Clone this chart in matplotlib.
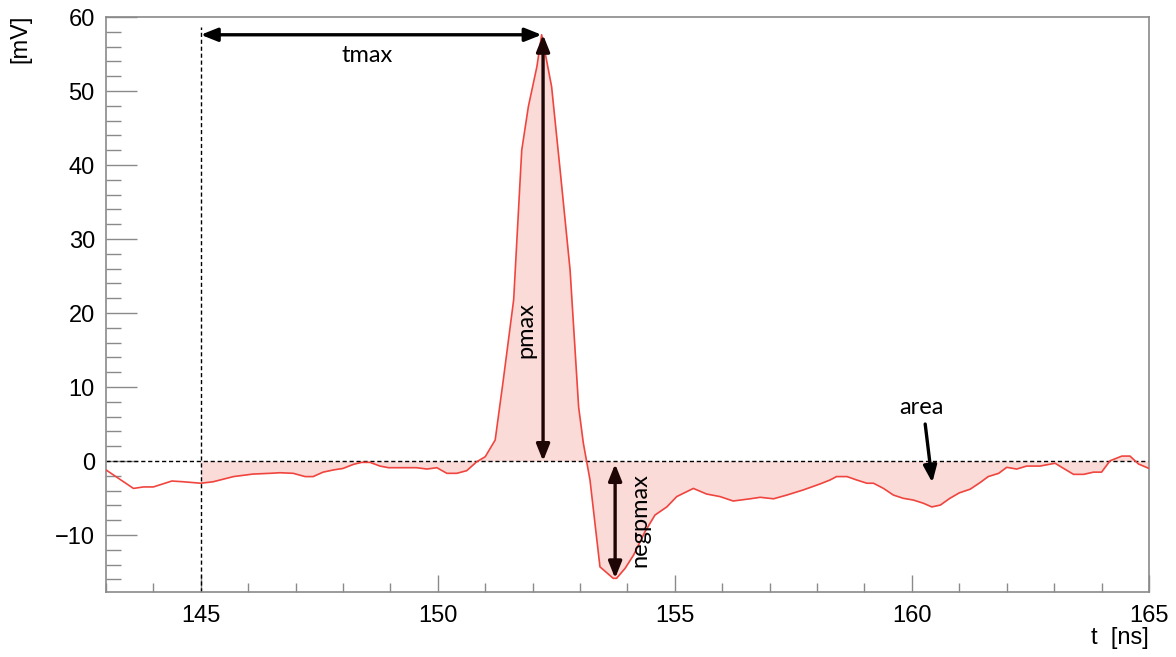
import numpy as np
import matplotlib.pyplot as plt
from matplotlib.ticker import MultipleLocator

# ----- waveform samples -----
t_ns = [143.0, 143.58, 143.79, 144.0, 144.39, 144.63, 145.0, 145.26, 145.69, 146.1,
        146.46, 146.67, 146.95, 147.2, 147.37, 147.58, 147.8, 148.0, 148.22, 148.39,
        148.57, 148.78, 148.96, 149.2, 149.55, 149.77, 149.98, 150.19, 150.4, 150.61,
        150.82, 151.0, 151.21, 151.38, 151.6, 151.77, 151.91, 152.09, 152.19, 152.4,
        152.58, 152.79, 152.97, 153.07, 153.21, 153.42, 153.7, 153.77, 153.95, 154.13,
        154.37, 154.58, 154.83, 155.04, 155.39, 155.67, 155.95, 156.23, 156.59, 156.8,
        157.08, 157.36, 157.71, 158.06, 158.27, 158.41, 158.63, 158.84, 159.05, 159.19,
        159.4, 159.61, 159.82, 160.03, 160.24, 160.42, 160.6, 160.8, 161.0, 161.23,
        161.44, 161.61, 161.83, 162.0, 162.21, 162.42, 162.7, 163.02, 163.2, 163.41,
        163.62, 163.83, 164.0, 164.18, 164.43, 164.6, 164.78, 165.0]
v_mV = [-1.2, -3.7, -3.5, -3.5, -2.7, -2.8, -3.0, -2.8, -2.1, -1.76,
        -1.66, -1.58, -1.66, -2.1, -2.1, -1.5, -1.2, -1.0, -0.45, -0.18,
        -0.18, -0.68, -0.9, -0.9, -0.9, -1.08, -0.9, -1.66, -1.66, -1.3,
        -0.1, 0.58, 2.84, 10.9, 21.8, 42.0, 47.9, 53.3, 57.6, 50.6,
        39.3, 25.8, 7.3, 2.4, -2.57, -14.3, -15.85, -15.85, -14.5, -12.7,
        -9.55, -7.3, -6.2, -4.8, -3.7, -4.46, -4.8, -5.4, -5.1, -4.9,
        -5.1, -4.6, -3.9, -3.1, -2.57, -2.1, -2.1, -2.57, -3.0, -3.0,
        -3.7, -4.6, -5.04, -5.27, -5.7, -6.2, -5.95, -5.04, -4.3, -3.8,
        -2.9, -2.1, -1.66, -0.85, -1.08, -0.68, -0.68, -0.3, -1.0, -1.8,
        -1.8, -1.5, -1.5, 0.04, 0.67, 0.67, -0.4, -1.0]

T_START = 145.0
T_PEAK, V_PEAK = 152.19, 57.6
T_NEG, V_NEG = 153.74, -15.85

LINE_COLOR = "#f0453f"
FILL_COLOR = "#fadbd8"
AXIS_COLOR = "#8a8a8a"
ANN_FONT = ["Lato", "DejaVu Sans"]
ARROW2 = "<|-|>,head_length=1.0,head_width=0.4"
ARROW1 = "-|>,head_length=1.0,head_width=0.4"

plt.rcParams["font.family"] = ["Liberation Sans", "DejaVu Sans"]

fig = plt.figure(figsize=(11.76, 6.57), dpi=100)
ax = fig.add_axes([0.0901, 0.0989, 0.8869, 0.8752])

t = np.array(t_ns)
v = np.array(v_mV)
mask = t >= T_START
ax.fill_between(t[mask], v[mask], 0, color=FILL_COLOR, linewidth=0, zorder=1)
ax.plot(t, v, color=LINE_COLOR, linewidth=1.2, zorder=3)

# reference lines
ax.axhline(0, color="black", linestyle=(0, (3, 2)), linewidth=1.0, zorder=2)
ax.plot([T_START, T_START], [-17.7, 58.6], color="black", linestyle=(0, (3, 2)),
        linewidth=1.0, zorder=2)

# tmax
ax.annotate("", xy=(T_PEAK, V_PEAK), xytext=(T_START, V_PEAK),
            arrowprops=dict(arrowstyle=ARROW2, color="black",
                            lw=2.4, shrinkA=0, shrinkB=0), zorder=5)
ax.text(148.5, 54.8, "tmax", ha="center", va="center", fontsize=17, family=ANN_FONT)

# pmax
ax.annotate("", xy=(T_PEAK + 0.03, V_PEAK), xytext=(T_PEAK + 0.03, 0),
            arrowprops=dict(arrowstyle=ARROW2, color="#1e0606",
                            lw=2.4, shrinkA=0, shrinkB=0), zorder=5)
ax.text(151.86, 17.7, "pmax", ha="center", va="center", rotation=90, fontsize=17,
        family=ANN_FONT)

# negpmax
ax.annotate("", xy=(T_NEG, V_NEG), xytext=(T_NEG, -0.4),
            arrowprops=dict(arrowstyle=ARROW2, color="#1e0606",
                            lw=2.4, shrinkA=0, shrinkB=0), zorder=5)
ax.text(154.27, -8.0, "negpmax", ha="center", va="center", rotation=90, fontsize=17,
        family=ANN_FONT)

# area
ax.annotate("", xy=(160.43, -2.9), xytext=(160.28, 5.0),
            arrowprops=dict(arrowstyle=ARROW1, color="black",
                            lw=2.4, shrinkA=0, shrinkB=0), zorder=5)
ax.text(160.2, 7.3, "area", ha="center", va="center", fontsize=17, family=ANN_FONT)

ax.set_xlim(143, 165)
ax.set_ylim(-17.7, 60)
ax.xaxis.set_major_locator(MultipleLocator(5))
ax.xaxis.set_minor_locator(MultipleLocator(1))
ax.yaxis.set_major_locator(MultipleLocator(10))
ax.yaxis.set_minor_locator(MultipleLocator(2))

for s in ax.spines.values():
    s.set_color(AXIS_COLOR)
    s.set_linewidth(1.2)
ax.tick_params(axis="both", which="both", direction="in", colors=AXIS_COLOR,
               labelcolor="black", labelsize=17, width=1.0)
ax.tick_params(axis="y", which="major", length=22, pad=8)
ax.tick_params(axis="y", which="minor", length=11)
ax.tick_params(axis="x", which="major", length=12.5, pad=9)
ax.tick_params(axis="x", which="minor", length=6.5)

fig.text(0.017, 0.978, "[mV]", rotation=90, ha="center", va="top", fontsize=17)
fig.text(0.977, 0.012, "t  [ns]", ha="right", va="bottom", fontsize=17)

fig.savefig("out.png", dpi=100)
